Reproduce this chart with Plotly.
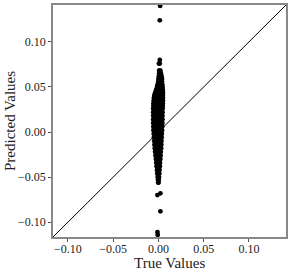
import plotly.graph_objects as go

# Predicted value levels (y) and the true values (x) of the points at each level,
# read off the picture
pred_levels = [
    0.140, 0.124, 0.080, 0.076, 0.068, 0.065, 0.062, 0.059, 0.056, 0.053,
    0.050, 0.047, 0.044, 0.041, 0.038, 0.035, 0.032, 0.029, 0.026, 0.022,
    0.018, 0.014, 0.010, 0.006, 0.002, -0.002, -0.006, -0.010, -0.014, -0.018,
    -0.022, -0.026, -0.030, -0.034, -0.038, -0.042, -0.046, -0.050, -0.053, -0.056,
    -0.068, -0.070, -0.088, -0.111, -0.114,
]
true_at_level = [
    [0.0019],
    [0.0015],
    [0.0015],
    [0.0005, 0.0015],
    [0.0008, 0.0015, 0.0022],
    [0.0008, 0.0018, 0.0028],
    [0.0005, 0.0012, 0.0020, 0.0028, 0.0035],
    [0.0000, 0.0010, 0.0020, 0.0030, 0.0040],
    [-0.0002, 0.0008, 0.0018, 0.0028, 0.0040],
    [-0.0008, 0.0003, 0.0015, 0.0027, 0.0042],
    [-0.0015, -0.0002, 0.0010, 0.0022, 0.0035, 0.0046],
    [-0.0025, -0.0012, 0.0000, 0.0012, 0.0025, 0.0040, 0.0048],
    [-0.0035, -0.0020, -0.0005, 0.0010, 0.0025, 0.0040, 0.0050],
    [-0.0045, -0.0030, -0.0015, 0.0000, 0.0015, 0.0030, 0.0045, 0.0050],
    [-0.0050, -0.0035, -0.0020, -0.0005, 0.0010, 0.0025, 0.0040, 0.0050],
    [-0.0052, -0.0035, -0.0020, -0.0005, 0.0010, 0.0025, 0.0040, 0.0050],
    [-0.0055, -0.0038, -0.0022, -0.0008, 0.0008, 0.0022, 0.0038, 0.0048],
    [-0.0056, -0.0038, -0.0022, -0.0008, 0.0008, 0.0022, 0.0036, 0.0048],
    [-0.0058, -0.0040, -0.0025, -0.0010, 0.0005, 0.0020, 0.0035, 0.0047],
    [-0.0058, -0.0040, -0.0025, -0.0010, 0.0005, 0.0020, 0.0034, 0.0046],
    [-0.0058, -0.0040, -0.0025, -0.0010, 0.0005, 0.0020, 0.0034, 0.0045],
    [-0.0058, -0.0040, -0.0025, -0.0010, 0.0005, 0.0020, 0.0034, 0.0045],
    [-0.0058, -0.0040, -0.0025, -0.0010, 0.0005, 0.0020, 0.0033, 0.0044],
    [-0.0056, -0.0038, -0.0022, -0.0008, 0.0006, 0.0020, 0.0032, 0.0042],
    [-0.0055, -0.0035, -0.0020, -0.0005, 0.0008, 0.0020, 0.0030, 0.0040],
    [-0.0052, -0.0033, -0.0018, -0.0004, 0.0010, 0.0022, 0.0030, 0.0038],
    [-0.0050, -0.0030, -0.0015, 0.0000, 0.0012, 0.0025, 0.0036],
    [-0.0046, -0.0028, -0.0014, 0.0000, 0.0012, 0.0024, 0.0034],
    [-0.0044, -0.0026, -0.0012, 0.0002, 0.0014, 0.0024, 0.0032],
    [-0.0040, -0.0023, -0.0010, 0.0003, 0.0015, 0.0024, 0.0030],
    [-0.0037, -0.0021, -0.0008, 0.0005, 0.0016, 0.0026],
    [-0.0033, -0.0018, -0.0005, 0.0007, 0.0018, 0.0024],
    [-0.0028, -0.0015, -0.0004, 0.0007, 0.0016, 0.0022],
    [-0.0024, -0.0012, -0.0002, 0.0008, 0.0018],
    [-0.0020, -0.0008, 0.0002, 0.0010, 0.0016],
    [-0.0016, -0.0006, 0.0003, 0.0012],
    [-0.0013, -0.0004, 0.0004, 0.0010],
    [-0.0009, 0.0000, 0.0007],
    [-0.0005, 0.0003],
    [-0.0003, 0.0002],
    [0.0022],
    [-0.0011],
    [0.0022],
    [-0.0011],
    [-0.0008],
]

true_values = []
predicted_values = []
for level, xs in zip(pred_levels, true_at_level):
    for xv in xs:
        true_values.append(xv)
        predicted_values.append(level)

axis_min = -0.1165
axis_max = 0.141
tick_vals = [-0.10, -0.05, 0.00, 0.05, 0.10]
tick_text = ["\u22120.10", "\u22120.05", "0.00", "0.05", "0.10"]

font_family = "Liberation Serif"

fig = go.Figure()
fig.add_trace(go.Scatter(
    x=[axis_min, axis_max], y=[axis_min, axis_max],
    mode="lines", line=dict(color="black", width=1), showlegend=False,
))
fig.add_trace(go.Scatter(
    x=true_values, y=predicted_values, mode="markers",
    marker=dict(color="black", size=4.8, line=dict(width=0)),
    showlegend=False,
))

axis_common = dict(
    range=[axis_min, axis_max],
    tickvals=tick_vals, ticktext=tick_text,
    ticks="outside", ticklen=3, tickwidth=1, tickcolor="#555555",
    showline=True, linecolor="#888888", linewidth=1.5, mirror=True,
    showgrid=False, zeroline=False, automargin=False,
    tickfont=dict(family=font_family, size=12, color="#222222"),
)

fig.update_layout(
    width=291, height=273,
    margin=dict(l=53, r=5, t=5, b=36),
    paper_bgcolor="white", plot_bgcolor="white",
    xaxis=dict(**axis_common, ticklabelstandoff=-3),
    yaxis=dict(**axis_common),
    annotations=[
        dict(text="True Values", xref="paper", yref="paper", x=0.5, y=0,
             yshift=-26, xanchor="center", yanchor="middle", showarrow=False,
             font=dict(family=font_family, size=15, color="#222222")),
        dict(text="Predicted Values", xref="paper", yref="paper", x=0, y=0.5,
             xshift=-43, xanchor="center", yanchor="middle", showarrow=False,
             textangle=-90,
             font=dict(family=font_family, size=15, color="#222222")),
    ],
)

fig.write_html("out.html",
               config={"displayModeBar": False},
               post_script="document.body.style.margin='0';document.body.style.overflow='hidden';")
